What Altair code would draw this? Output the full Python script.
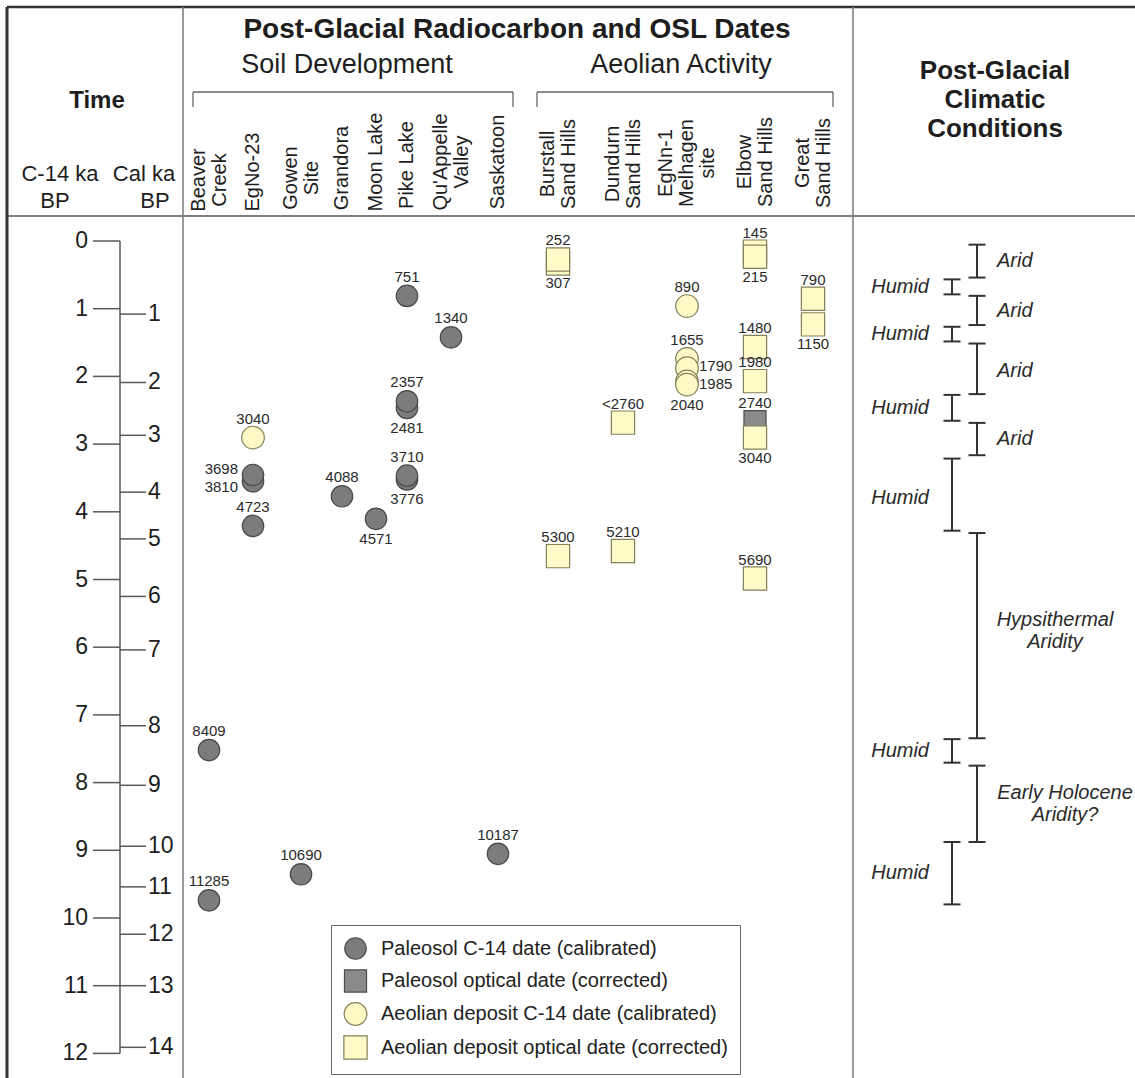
import altair as alt
import pandas as pd

W, H = 1135, 1078
FONT = "Liberation Sans"

# ---------------- data ----------------
SITES = ["Beaver Creek", "EgNo-23", "Gowen Site", "Grandora", "Moon Lake",
         "Pike Lake", "Qu'Appelle Valley", "Saskatoon",
         "Burstall Sand Hills", "Dundurn Sand Hills", "EgNn-1 Melhagen site",
         "Elbow Sand Hills", "Great Sand Hills"]
SITE_HEADERS = [["Beaver", "Creek"], ["EgNo-23"], ["Gowen", "Site"], ["Grandora"],
                ["Moon Lake"], ["Pike Lake"], ["Qu'Appelle", "Valley"], ["Saskatoon"],
                ["Burstall", "Sand Hills"], ["Dundurn", "Sand Hills"],
                ["EgNn-1", "Melhagen", "site"], ["Elbow", "Sand Hills"],
                ["Great", "Sand Hills"]]

TYPES = ["Paleosol C-14 date (calibrated)",
         "Paleosol optical date (corrected)",
         "Aeolian deposit C-14 date (calibrated)",
         "Aeolian deposit optical date (corrected)"]
PC, PO, AC, AO = TYPES

date_site = ["Beaver Creek", "Beaver Creek",
             "EgNo-23", "EgNo-23", "EgNo-23", "EgNo-23",
             "Gowen Site", "Grandora", "Moon Lake",
             "Pike Lake", "Pike Lake", "Pike Lake", "Pike Lake", "Pike Lake",
             "Qu'Appelle Valley", "Saskatoon",
             "Burstall Sand Hills", "Burstall Sand Hills", "Burstall Sand Hills",
             "Dundurn Sand Hills", "Dundurn Sand Hills",
             "EgNn-1 Melhagen site", "EgNn-1 Melhagen site", "EgNn-1 Melhagen site",
             "EgNn-1 Melhagen site", "EgNn-1 Melhagen site",
             "Elbow Sand Hills", "Elbow Sand Hills", "Elbow Sand Hills", "Elbow Sand Hills",
             "Elbow Sand Hills", "Elbow Sand Hills", "Elbow Sand Hills",
             "Great Sand Hills", "Great Sand Hills"]
date_cal_bp = [8409, 11285,
               3040, 3810, 3698, 4723,
               10690, 4088, 4571,
               751, 2481, 2357, 3776, 3710,
               1340, 10187,
               307, 252, 5300,
               2760, 5210,
               890, 1655, 1790, 1985, 2040,
               145, 215, 1480, 1980, 2740, 3040, 5690,
               790, 1150]
date_text = ["8409", "11285",
             "3040", "3810", "3698", "4723",
             "10690", "4088", "4571",
             "751", "2481", "2357", "3776", "3710",
             "1340", "10187",
             "307", "252", "5300",
             "<2760", "5210",
             "890", "1655", "1790", "1985", "2040",
             "145", "215", "1480", "1980", "2740", "3040", "5690",
             "790", "1150"]
date_type = [PC, PC,
             AC, PC, PC, PC,
             PC, PC, PC,
             PC, PC, PC, PC, PC,
             PC, PC,
             AO, AO, AO,
             AO, AO,
             AC, AC, AC, AC, AC,
             AO, AO, AO, AO, PO, AO, AO,
             AO, AO]
date_label_side = ["above", "above",
                   "above", "left-down", "left-up", "above",
                   "above", "above", "below",
                   "above", "below", "above", "below", "above",
                   "above", "above",
                   "below", "above", "above",
                   "above", "above",
                   "above", "above", "right-up", "right-down", "below",
                   "above", "below", "above", "above", "above", "below", "above",
                   "above", "below"]

C14_TICKS = list(range(0, 13))
CAL_TICKS = list(range(1, 15))
# calibration: C-14 ka position of each whole cal ka
CAL_KA = list(range(0, 15))
CAL_AS_C14 = [0, 1.08, 2.09, 2.87, 3.71, 4.40, 5.25, 6.04, 7.16, 8.04,
              8.94, 9.54, 10.24, 11.00, 11.91]

clim_name = ["Arid", "Humid", "Arid", "Humid", "Arid", "Humid", "Arid", "Humid",
             "Hypsithermal\nAridity", "Humid", "Early Holocene\nAridity?", "Humid"]
clim_kind = ["Arid", "Humid", "Arid", "Humid", "Arid", "Humid", "Arid", "Humid",
             "Arid", "Humid", "Arid", "Humid"]
clim_start = [50, 525, 750, 1185, 1430, 2235, 2765, 3410, 4875, 8225, 8670, 9930]
clim_end = [500, 730, 1160, 1400, 2220, 2725, 3350, 4825, 8210, 8620, 9930, 11370]

# ---------------- layout ----------------
Y0, PX_KA = 241, 67.7
COL_X = [209, 253, 301, 342, 376, 407, 451, 498, 558, 623, 687, 755, 813]
HDR_CY = [180, 172, 178, 168, 162, 165, 162, 162, 164, 164, 163, 162, 163]
HDR_LH = 21

c14_scale = alt.Scale(domain=[0, 12], range=[Y0, Y0 + 12 * PX_KA], nice=False, zero=False)
cal_scale = alt.Scale(domain=[k * 1000 for k in CAL_KA],
                      range=[Y0 + c * PX_KA for c in CAL_AS_C14], nice=False, zero=False)
col_scale = alt.Scale(domain=list(range(len(SITES))), range=COL_X, nice=False, zero=False)
pix_scale = alt.Scale(domain=[0, H], range=[0, H], nice=False, zero=False)

FILLS = ["#7c7c7c", "#8a8a8a", "#fdf9c6", "#fefbc8"]
STROKES = ["#4a4a4a", "#4a4a4a", "#858059", "#858059"]
SHAPES = ["circle", "square", "circle", "square"]
SIZES = [460, 540, 460, 540]

ONE = pd.DataFrame({"a": [0]})


def deco_rule(x1, y1, x2, y2, color="#555", w=1.5):
    return alt.Chart(ONE).mark_rule(color=color, strokeWidth=w).encode(
        x=alt.value(x1), x2=alt.value(x2), y=alt.value(y1), y2=alt.value(y2))


def deco_text(x, y, s, size, weight="normal", align="center", lh=None, style="normal",
              color="#1e1e1e"):
    kw = dict(font=FONT, fontSize=size, fontWeight=weight, fontStyle=style, align=align,
              baseline="middle", color=color, lineBreak="\n")
    if lh is not None:
        kw["lineHeight"] = lh
    return alt.Chart(ONE).mark_text(**kw).encode(x=alt.value(x), y=alt.value(y),
                                                 text=alt.value(s))


layers = []

# frame
layers += [
    deco_rule(7, 7, W, 7, "#333", 2.5),
    deco_rule(7, 7, 7, H, "#333", 3),
    deco_rule(7, 216, W, 216, "#555", 1.5),
    deco_rule(183, 7, 183, H, "#808080", 1.6),
    deco_rule(853, 7, 853, H, "#808080", 1.6),
    # brackets
    deco_rule(193, 92, 513, 92, "#666", 1.3),
    deco_rule(193, 92, 193, 107, "#666", 1.3),
    deco_rule(513, 92, 513, 107, "#666", 1.3),
    deco_rule(537, 92, 833, 92, "#666", 1.3),
    deco_rule(537, 92, 537, 107, "#666", 1.3),
    deco_rule(833, 92, 833, 107, "#666", 1.3),
]

# header texts (multi-line text: first line sits at the anchor)
layers += [
    deco_text(97, 101, "Time", 24, "bold"),
    deco_text(60, 174, "C-14 ka", 22),
    deco_text(144, 174, "Cal ka", 22),
    deco_text(55, 201, "BP", 22),
    deco_text(155, 201, "BP", 22),
    deco_text(517, 30, "Post-Glacial Radiocarbon and OSL Dates", 28, "bold"),
    deco_text(347, 65, "Soil Development", 27),
    deco_text(681, 65, "Aeolian Activity", 27),
    deco_text(995, 71, "Post-Glacial\nClimatic\nConditions", 26, "bold", lh=29),
]

# column headers: one row per text line, lines spread around the column
# (text is rotated 270 deg, so the text-frame dy moves a line sideways)
rows = []
for i, lines in enumerate(SITE_HEADERS):
    n = len(lines)
    for j, ln in enumerate(lines):
        rows.append({"line": ln, "col": i, "cy": HDR_CY[i], "off": (j - (n - 1) / 2) * HDR_LH})
hdr = pd.DataFrame(rows)
for off in sorted(hdr["off"].unique()):
    layers.append(
        alt.Chart(hdr).transform_filter(alt.datum.off == float(off)).mark_text(
            font=FONT, fontSize=20, angle=270, align="center", baseline="middle",
            dy=float(off), color="#1e1e1e").encode(
            x=alt.X("col:Q", scale=col_scale, axis=None),
            y=alt.Y("cy:Q", scale=pix_scale, axis=None),
            text="line:N")
    )

# time scale
c14 = pd.DataFrame({"c14": C14_TICKS})
cal = pd.DataFrame({"cal_ka": CAL_TICKS})
cal["cal_bp"] = cal["cal_ka"] * 1000
AX = "#5a5a5a"
layers += [
    alt.Chart(c14).mark_rule(color=AX, strokeWidth=1.5).encode(
        x=alt.value(120), y=alt.Y("min(c14):Q", scale=c14_scale, axis=None),
        y2="max(c14):Q"),
    alt.Chart(c14).mark_rule(color=AX, strokeWidth=1.5).encode(
        x=alt.value(93), x2=alt.value(120), y=alt.Y("c14:Q", scale=c14_scale, axis=None)),
    alt.Chart(c14).mark_text(font=FONT, fontSize=23, align="right", baseline="middle",
                             color="#1e1e1e").encode(
        x=alt.value(88), y=alt.Y("c14:Q", scale=c14_scale, axis=None), text="c14:N"),
    alt.Chart(cal).mark_rule(color=AX, strokeWidth=1.5).encode(
        x=alt.value(120), x2=alt.value(146), y=alt.Y("cal_bp:Q", scale=cal_scale, axis=None)),
    alt.Chart(cal).mark_text(font=FONT, fontSize=23, align="left", baseline="middle",
                             color="#1e1e1e").encode(
        x=alt.value(148), y=alt.Y("cal_bp:Q", scale=cal_scale, axis=None), text="cal_ka:N"),
]

# dates
dates = pd.DataFrame({"site": date_site, "cal_bp": date_cal_bp, "label": date_text,
                      "type": date_type, "side": date_label_side})
dates["col"] = [SITES.index(s) for s in dates["site"]]

LEG = alt.Legend(orient="none", legendX=331, legendY=925, title=None,
                 labelFont=FONT, labelFontSize=20, labelColor="#222", labelLimit=600,
                 strokeColor="#666", fillColor="white", padding=12, rowPadding=5,
                 labelOffset=13, symbolStrokeWidth=1.2)

layers.append(
    alt.Chart(dates).mark_point(filled=True, opacity=1, strokeWidth=1.2).encode(
        x=alt.X("col:Q", scale=col_scale, axis=None),
        y=alt.Y("cal_bp:Q", scale=cal_scale, axis=None),
        shape=alt.Shape("type:N", scale=alt.Scale(domain=TYPES, range=SHAPES), legend=LEG),
        fill=alt.Fill("type:N", scale=alt.Scale(domain=TYPES, range=FILLS), legend=LEG),
        stroke=alt.Stroke("type:N", scale=alt.Scale(domain=TYPES, range=STROKES), legend=LEG),
        size=alt.Size("type:N", scale=alt.Scale(domain=TYPES, range=SIZES), legend=LEG),
    )
)

label_styles = {"above": dict(dy=-19, align="center"),
                "below": dict(dy=20, align="center"),
                "left-up": dict(dx=-15, dy=-6, align="right"),
                "left-down": dict(dx=-15, dy=6, align="right"),
                "right-up": dict(dx=12, dy=-2, align="left"),
                "right-down": dict(dx=12, dy=3, align="left")}
for side, st in label_styles.items():
    layers.append(
        alt.Chart(dates).transform_filter(alt.datum.side == side).mark_text(
            font=FONT, fontSize=15, baseline="middle", color="#2a2a2a", **st).encode(
            x=alt.X("col:Q", scale=col_scale, axis=None),
            y=alt.Y("cal_bp:Q", scale=cal_scale, axis=None),
            text="label:N")
    )

# climatic conditions
clim = pd.DataFrame({"name": clim_name, "kind": clim_kind, "start": clim_start, "end": clim_end})
kind_scale = alt.Scale(type="point", domain=["Humid", "Arid"], range=[952, 977], padding=0)
BAR = "#333"
layers += [
    alt.Chart(clim).mark_rule(color=BAR, strokeWidth=2).encode(
        x=alt.X("kind:N", scale=kind_scale, axis=None),
        y=alt.Y("start:Q", scale=cal_scale, axis=None), y2="end:Q"),
    alt.Chart(clim).transform_fold(["start", "end"], as_=["edge", "t"]).mark_tick(
        color=BAR, thickness=2, size=17, orient="horizontal", opacity=1).encode(
        x=alt.X("kind:N", scale=kind_scale, axis=None),
        y=alt.Y("t:Q", scale=cal_scale, axis=None)),
]
clim_text = dict(font=FONT, fontSize=20, fontStyle="italic", baseline="middle",
                 color="#2a2a2a", lineBreak="\n", lineHeight=22)
mid = "(datum.start + datum.end) / 2"
layers += [
    alt.Chart(clim).transform_filter(alt.datum.kind == "Humid").transform_calculate(
        mid=mid).mark_text(align="right", **clim_text).encode(
        x=alt.value(929), y=alt.Y("mid:Q", scale=cal_scale, axis=None), text="name:N"),
    alt.Chart(clim).transform_filter(alt.datum.name == "Arid").transform_calculate(
        mid=mid).mark_text(align="left", **clim_text).encode(
        x=alt.value(997), y=alt.Y("mid:Q", scale=cal_scale, axis=None), text="name:N"),
    alt.Chart(clim).transform_filter(alt.datum.name == "Hypsithermal\nAridity").transform_calculate(
        mid=mid).mark_text(align="center", dy=-5, **clim_text).encode(
        x=alt.value(1055), y=alt.Y("mid:Q", scale=cal_scale, axis=None), text="name:N"),
    alt.Chart(clim).transform_filter(alt.datum.name == "Early Holocene\nAridity?").transform_calculate(
        mid=mid).mark_text(align="center", dy=-11, **clim_text).encode(
        x=alt.value(1065), y=alt.Y("mid:Q", scale=cal_scale, axis=None), text="name:N"),
]

chart = alt.layer(*layers).properties(
    width=W, height=H, padding=0, autosize=alt.AutoSizeParams(type="none"),
    background="white"
).resolve_scale(x="independent", y="independent").configure_view(stroke=None)

chart.save("out.html", embed_options={"renderer": "svg", "actions": False})
